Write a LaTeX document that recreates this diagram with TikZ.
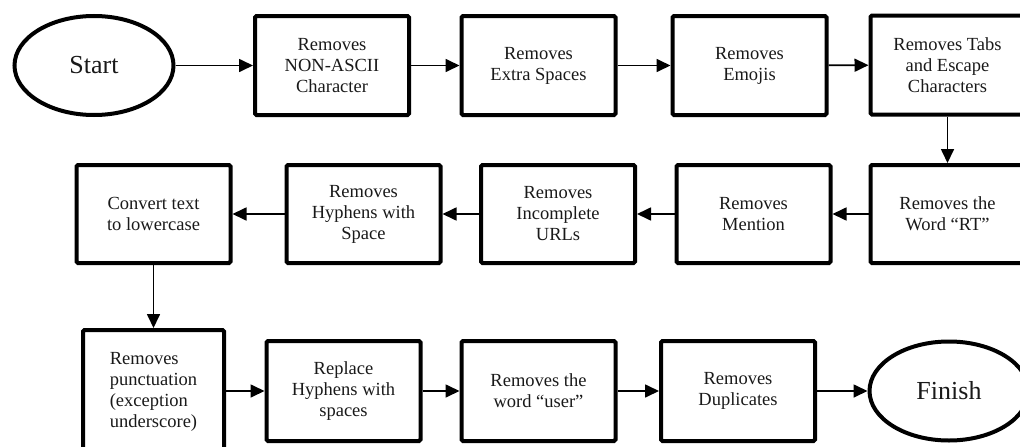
\documentclass[tikz,border=0pt]{standalone}
\usepackage{fontspec}
\setmainfont{Liberation Serif}
\usetikzlibrary{shapes.geometric,arrows.meta}
\begin{document}
\begin{tikzpicture}[x=1pt,y=-1pt,
 stepbox/.style={draw,line width=4pt,rounded corners=1.5pt,minimum width=154pt,minimum height=99pt,inner sep=2pt,align=center,font=\fontsize{18.5pt}{21pt}\selectfont,text=black!90},
 term/.style={draw,ellipse,line width=4pt,inner sep=0pt,minimum width=159pt,minimum height=99pt,font=\fontsize{26pt}{30pt}\selectfont,text=black!90},
 flow/.style={line width=1.7pt,-{Triangle[length=14pt,width=13pt]}}]
\useasboundingbox (0,0) rectangle (1020,447);
\clip (0,0) rectangle (1020,447);
% row 1
\node[term] (start) at (94,65.5) {Start};
\node[stepbox] (b1) at (332,65.5) {Removes\\NON-ASCII\\Character};
\node[stepbox] (b2) at (538.5,65.5) {Removes\\Extra Spaces};
\node[stepbox] (b3) at (749.5,65.5) {Removes\\Emojis};
\node[stepbox] (b4) at (947.5,65) {Removes Tabs\\and Escape\\Characters};
% row 2
\node[stepbox,minimum height=98pt] (b5) at (947.5,214) {Removes the\\Word “RT”};
\node[stepbox,minimum height=98pt] (b6) at (753.5,214) {Removes\\Mention};
\node[stepbox,minimum height=98pt] (b7) at (558,214) {Removes\\Incomplete\\URLs};
\node[stepbox,minimum height=98pt] (b8) at (363.5,214) {Removes\\Hyphens with\\Space};
\node[stepbox,minimum height=98pt] (b9) at (153.5,214) {Convert text\\to lowercase};
% row 3
\node[stepbox,minimum width=141pt,minimum height=123pt,align=left] (b10) at (153.5,391.5) {Removes\\punctuation\\(exception\\underscore)};
\node[stepbox,minimum height=100pt] (b11) at (343.5,391) {Replace\\Hyphens with\\spaces};
\node[stepbox,minimum height=100pt] (b12) at (538.5,391) {Removes the\\word “user”};
\node[stepbox,minimum height=100pt] (b13) at (738,391) {Removes\\Duplicates};
\node[term] (finish) at (949,391) {Finish};
% connectors
\draw[flow] (start) -- (b1);
\draw[flow] (b1) -- (b2);
\draw[flow] (b2) -- (b3);
\draw[flow] (b3) -- (b4);
\draw[flow] (b4) -- (b5);
\draw[flow] (b5) -- (b6);
\draw[flow] (b6) -- (b7);
\draw[flow] (b7) -- (b8);
\draw[flow] (b8) -- (b9);
\draw[flow] (b9) -- (b10);
\draw[flow] (b10.east |- b11) -- (b11);
\draw[flow] (b11) -- (b12);
\draw[flow] (b12) -- (b13);
\draw[flow] (b13) -- (finish);
\end{tikzpicture}
\end{document}
